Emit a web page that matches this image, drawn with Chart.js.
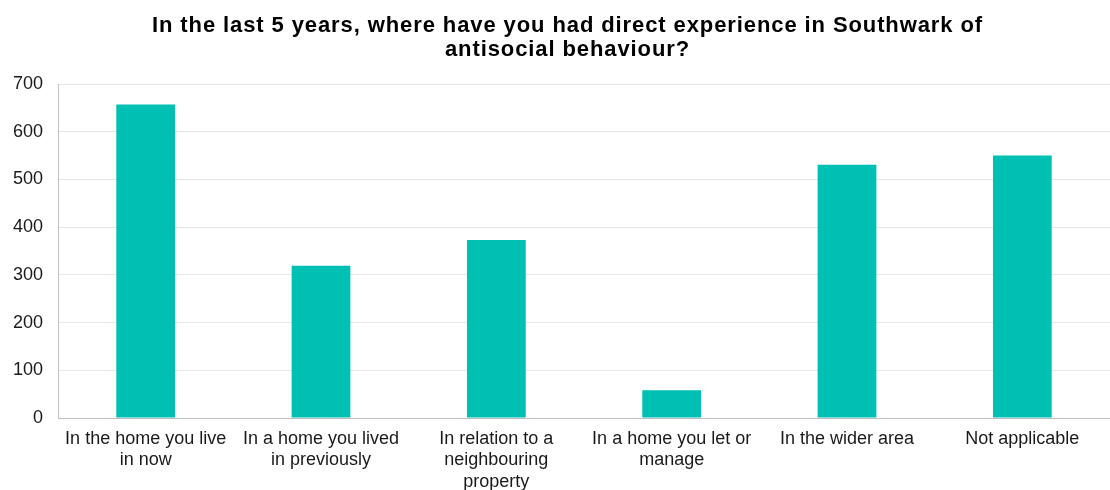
<!DOCTYPE html>
<html>
<head>
<meta charset="utf-8">
<script src="https://cdn.jsdelivr.net/npm/chart.js@4"></script>
<style>
html,body{margin:0;padding:0;background:#fff;}
#c{display:block;}
</style>
</head>
<body>
<canvas id="c" width="1110" height="490"></canvas>
<script>
const titleLines = ["In the last 5 years, where have you had direct experience in Southwark of", "antisocial behaviour?"];
const categories = [
  ["In the home you live", "in now"],
  ["In a home you lived", "in previously"],
  ["In relation to a", "neighbouring", "property"],
  ["In a home you let or", "manage"],
  "In the wider area",
  "Not applicable"
];
const values = [657, 319, 373, 58, 531, 550];
const yMin = 0, yMax = 700, yStep = 100;

const font = "'Liberation Sans', Arial, sans-serif";

// Adds slight letter spacing (and a small horizontal offset) to the library's own title block
const titleSpacing = {
  id: 'titleSpacing',
  afterLayout(chart) {
    const tb = chart.titleBlock;
    if (tb && !tb._spaced) {
      const orig = tb.draw;
      tb.draw = function (area) {
        const ctx = this.ctx;
        ctx.save();
        ctx.translate(8.5, 0);
        ctx.letterSpacing = '0.9px';
        orig.call(this, area);
        ctx.restore();
      };
      tb._spaced = true;
    }
  }
};

new Chart(document.getElementById('c'), {
  type: 'bar',
  data: {
    labels: categories,
    datasets: [{
      data: values,
      backgroundColor: '#00BFB3',
      borderWidth: 0,
      barPercentage: 0.67,
      categoryPercentage: 0.5
    }]
  },
  plugins: [titleSpacing],
  options: {
    responsive: false,
    animation: false,
    layout: { padding: { left: 8, right: 0, top: 0, bottom: 0 } },
    plugins: {
      legend: { display: false },
      tooltip: { enabled: false },
      title: {
        display: true,
        text: titleLines,
        color: '#000',
        font: { family: font, size: 22, weight: 'bold', lineHeight: 1.1 },
        padding: { top: 13.4, bottom: 22.2 }
      }
    },
    scales: {
      x: {
        grid: { display: false, drawTicks: false },
        border: { display: true, color: '#BFBFBF', width: 1 },
        ticks: {
          color: '#1a1a1a',
          font: { family: font, size: 18, lineHeight: 1.2 },
          maxRotation: 0, minRotation: 0, autoSkip: false,
          padding: 10
        },
        afterFit: s => { s.height = 72; }
      },
      y: {
        min: yMin, max: yMax,
        ticks: {
          stepSize: yStep,
          color: '#1a1a1a',
          font: { family: font, size: 18 },
          padding: 15
        },
        grid: { color: '#E6E6E6', drawTicks: false, lineWidth: 1 },
        border: { display: true, color: '#BFBFBF', width: 1 },
        afterFit: s => { s.width = 50; }
      }
    }
  }
});
</script>
</body>
</html>
